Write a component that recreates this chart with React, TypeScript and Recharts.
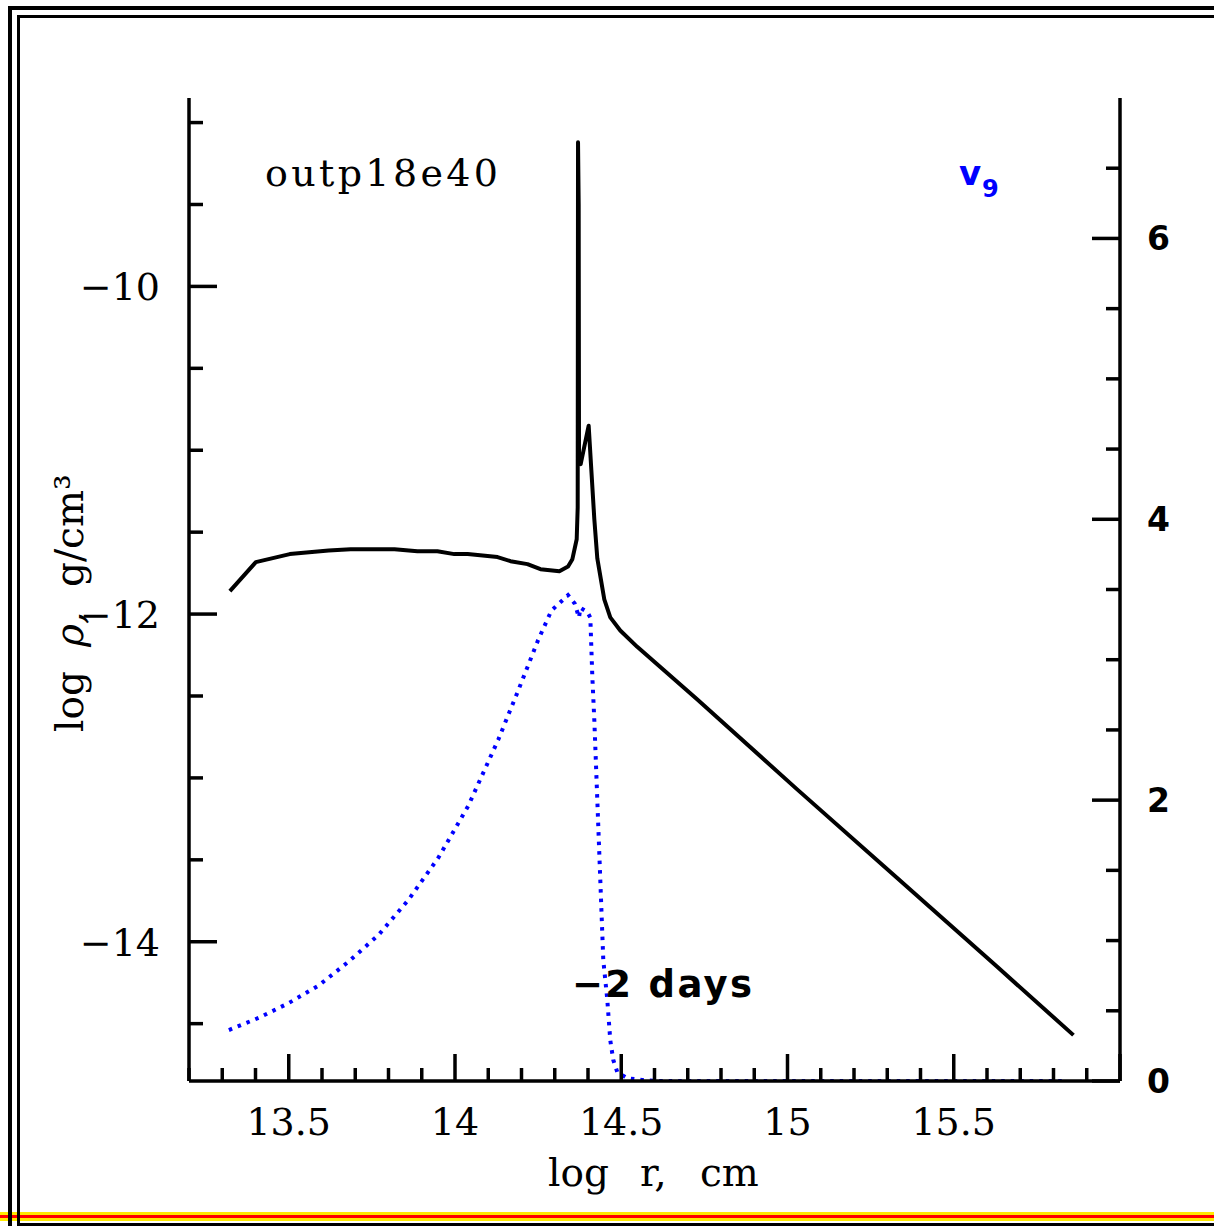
import React from 'react';
import { LineChart, Line, XAxis, YAxis } from 'recharts';

// density profile, log rho vs log r
const rhoLogR = [
  13.323, 13.401, 13.503, 13.62, 13.686, 13.818, 13.887, 13.947, 13.998, 14.038,
  14.128, 14.167, 14.218, 14.257, 14.314, 14.34, 14.353, 14.366, 14.369, 14.37,
  14.372, 14.373, 14.378, 14.402, 14.41, 14.419, 14.428, 14.449, 14.467, 14.497,
  14.548, 14.728, 15.029, 15.329, 15.629, 15.86,
];
const rhoLogDensity = [
  -11.86, -11.683, -11.634, -11.612, -11.604, -11.604, -11.616, -11.616, -11.634, -11.634,
  -11.652, -11.677, -11.695, -11.726, -11.738, -11.71, -11.665, -11.543, -11.35, -9.12,
  -9.5, -11.07, -11.085, -10.85, -11.12, -11.42, -11.66, -11.91, -12.02, -12.1,
  -12.2, -12.52, -13.07, -13.61, -14.15, -14.57,
];

// velocity v9 vs log r
const velLogR = [
  13.32, 13.41, 13.5, 13.59, 13.68, 13.77, 13.86, 13.95, 14.04, 14.13,
  14.19, 14.25, 14.29, 14.34, 14.36, 14.373, 14.377, 14.398, 14.407, 14.413,
  14.419, 14.428, 14.437, 14.446, 14.458, 14.467, 14.476, 14.488, 14.518, 14.563,
  14.608, 15.2, 15.839,
];
const velV9 = [
  0.363, 0.45, 0.555, 0.68, 0.85, 1.04, 1.29, 1.59, 1.96, 2.43,
  2.78, 3.14, 3.35, 3.46, 3.4, 3.3, 3.37, 3.34, 3.3, 2.88,
  2.57, 2.0, 1.43, 0.86, 0.58, 0.29, 0.15, 0.064, 0.02, 0.007,
  0, 0, 0,
];

const xTicks = [
  13.2, 13.3, 13.4, 13.5, 13.6, 13.7, 13.8, 13.9, 14, 14.1, 14.2, 14.3, 14.4, 14.5,
  14.6, 14.7, 14.8, 14.9, 15, 15.1, 15.2, 15.3, 15.4, 15.5, 15.6, 15.7, 15.8, 15.9, 16,
];
const xLabels = [13.5, 14, 14.5, 15, 15.5];
const rhoTicks = [-14.5, -14, -13.5, -13, -12.5, -12, -11.5, -11, -10.5, -10, -9.5, -9];
const rhoLabels = [-14, -12, -10];
const velTicks = [0, 0.5, 1, 1.5, 2, 2.5, 3, 3.5, 4, 4.5, 5, 5.5, 6, 6.5];
const velLabels = [0, 2, 4, 6];

const rhoData = rhoLogR.map((x, i) => ({ x, y: rhoLogDensity[i] }));
const velData = velLogR.map((x, i) => ({ x, y: velV9[i] }));

const isHalf = (v: number) => Math.abs(v * 2 - Math.round(v * 2)) < 1e-6;
const isEven = (v: number) => Math.abs(v / 2 - Math.round(v / 2)) < 1e-6;
const near = (list: number[], v: number) => list.some((l) => Math.abs(l - v) < 1e-6);
const fmt = (v: number) => String(v).replace('-', '\u2212');

const SERIF = '"DejaVu Serif", serif';
const SANS = '"DejaVu Sans", sans-serif';
const TICK_W = 3.5;
const AXIS = { stroke: '#000', strokeWidth: 3.5 };

const BottomTick = (props: any) => {
  const { x, y, payload } = props;
  const v = payload.value;
  return (
    <g>
      <line x1={x} x2={x} y1={y} y2={y - (isHalf(v) ? 27 : 13)} stroke="#000" strokeWidth={TICK_W} />
      {near(xLabels, v) && (
        <text x={x} y={y + 54} textAnchor="middle" fontFamily={SERIF} fontSize={38} fill="#000">
          {fmt(v)}
        </text>
      )}
    </g>
  );
};

const TopTick = (props: any) => {
  const { x, y, payload } = props;
  const v = payload.value;
  return <line x1={x} x2={x} y1={y} y2={y + (isHalf(v) ? 27 : 13)} stroke="#000" strokeWidth={TICK_W} />;
};

const LeftTick = (props: any) => {
  const { x, y, payload } = props;
  const v = payload.value;
  const major = near(rhoLabels, v);
  return (
    <g>
      <line x1={x} x2={x + (major ? 28 : 14)} y1={y} y2={y} stroke="#000" strokeWidth={TICK_W} />
      {major && (
        <text x={x - 29} y={y + 14} textAnchor="end" fontFamily={SERIF} fontSize={38} fill="#000">
          {fmt(v)}
        </text>
      )}
    </g>
  );
};

const RightTick = (props: any) => {
  const { x, y, payload } = props;
  const v = payload.value;
  const major = isEven(v);
  return (
    <g>
      <line x1={x} x2={x - (major ? 28 : 14)} y1={y} y2={y} stroke="#000" strokeWidth={TICK_W} />
      {near(velLabels, v) && (
        <text x={x + 27} y={y + 12} textAnchor="start" fontFamily={SANS} fontWeight="bold" fontSize={33} fill="#000">
          {fmt(v)}
        </text>
      )}
    </g>
  );
};

export default function App() {
  return (
    <div style={{ position: 'absolute', left: 0, top: 0, width: 1214, height: 1226, background: '#fff' }}>
      <LineChart
        width={1214}
        height={1226}
        margin={{ top: 98, right: 14, bottom: 85, left: 109 }}
      >
        <XAxis
          xAxisId="b"
          dataKey="x"
          type="number"
          domain={[13.2, 16]}
          allowDataOverflow
          ticks={xTicks}
          interval={0}
          height={60}
          tickSize={0}
          tickMargin={0}
          tickLine={false}
          axisLine={AXIS}
          tick={<BottomTick />}
        />
        <XAxis
          xAxisId="t"
          orientation="top"
          dataKey="x"
          type="number"
          domain={[13.2, 16]}
          allowDataOverflow
          ticks={xTicks}
          interval={0}
          height={0}
          tickSize={0}
          tickMargin={0}
          tickLine={false}
          axisLine={AXIS}
          tick={<TopTick />}
        />
        <YAxis
          yAxisId="l"
          orientation="left"
          type="number"
          domain={[-14.85, -8.85]}
          allowDataOverflow
          ticks={rhoTicks}
          interval={0}
          width={80}
          tickSize={0}
          tickMargin={0}
          tickLine={false}
          axisLine={AXIS}
          tick={<LeftTick />}
        />
        <YAxis
          yAxisId="r"
          orientation="right"
          type="number"
          domain={[0, 7]}
          allowDataOverflow
          ticks={velTicks}
          interval={0}
          width={80}
          tickSize={0}
          tickMargin={0}
          tickLine={false}
          axisLine={AXIS}
          tick={<RightTick />}
        />
        <Line
          xAxisId="b"
          yAxisId="l"
          data={rhoData}
          dataKey="y"
          type="linear"
          stroke="#000"
          strokeWidth={4}
          strokeLinejoin="round"
          dot={false}
          activeDot={false}
          isAnimationActive={false}
        />
        <Line
          xAxisId="b"
          yAxisId="r"
          data={velData}
          dataKey="y"
          type="linear"
          stroke="#0000ff"
          strokeWidth={4}
          strokeDasharray="3.5 6"
          dot={false}
          activeDot={false}
          isAnimationActive={false}
        />
      </LineChart>

      <svg
        width={1214}
        height={1226}
        style={{ position: 'absolute', left: 0, top: 0, pointerEvents: 'none' }}
      >
        {/* frame */}
        <rect x={0} y={1212} width={1214} height={9} fill="#ffea00" />
        <rect x={0} y={1215} width={1214} height={3} fill="#ff0000" />
        <rect x={8} y={6} width={4} height={1220} fill="#000" />
        <rect x={8} y={6} width={1206} height={4} fill="#000" />
        <rect x={17} y={15} width={3} height={1211} fill="#000" />
        <rect x={17} y={15} width={1197} height={3} fill="#000" />
        <rect x={17} y={1223} width={1197} height={3} fill="#000" />

        {/* labels */}
        <text x={265} y={186} fontFamily={SERIF} fontSize={38} textLength={233} lengthAdjust="spacing" fill="#000">
          outp18e40
        </text>
        <text x={959} y={185} fontFamily={SANS} fontWeight="bold" fontSize={34} fill="#0000ff">
          v
        </text>
        <text x={982} y={197} fontFamily={SANS} fontWeight="bold" fontSize={24} fill="#0000ff">
          9
        </text>
        <text x={572} y={997} fontFamily={SANS} fontWeight="bold" fontSize={37} textLength={180} lengthAdjust="spacing" fill="#000">
          {'\u22122 days'}
        </text>

        {/* x axis title */}
        <g fontFamily={SERIF} fontSize={39} fill="#000">
          <text x={548} y={1186}>log</text>
          <text x={640} y={1186}>r,</text>
          <text x={700} y={1186}>cm</text>
        </g>

        {/* y axis title, rotated about its baseline */}
        <g fontFamily={SERIF} fontSize={39} fill="#000" transform="rotate(-90, 83, 0)">
          <text x={83 - 732} y={0}>log</text>
          <text x={83 - 647} y={0} fontStyle="italic">{'\u03c1,'}</text>
          <text x={83 - 587} y={0}>{'g/cm\u00b3'}</text>
        </g>
      </svg>
    </div>
  );
}
